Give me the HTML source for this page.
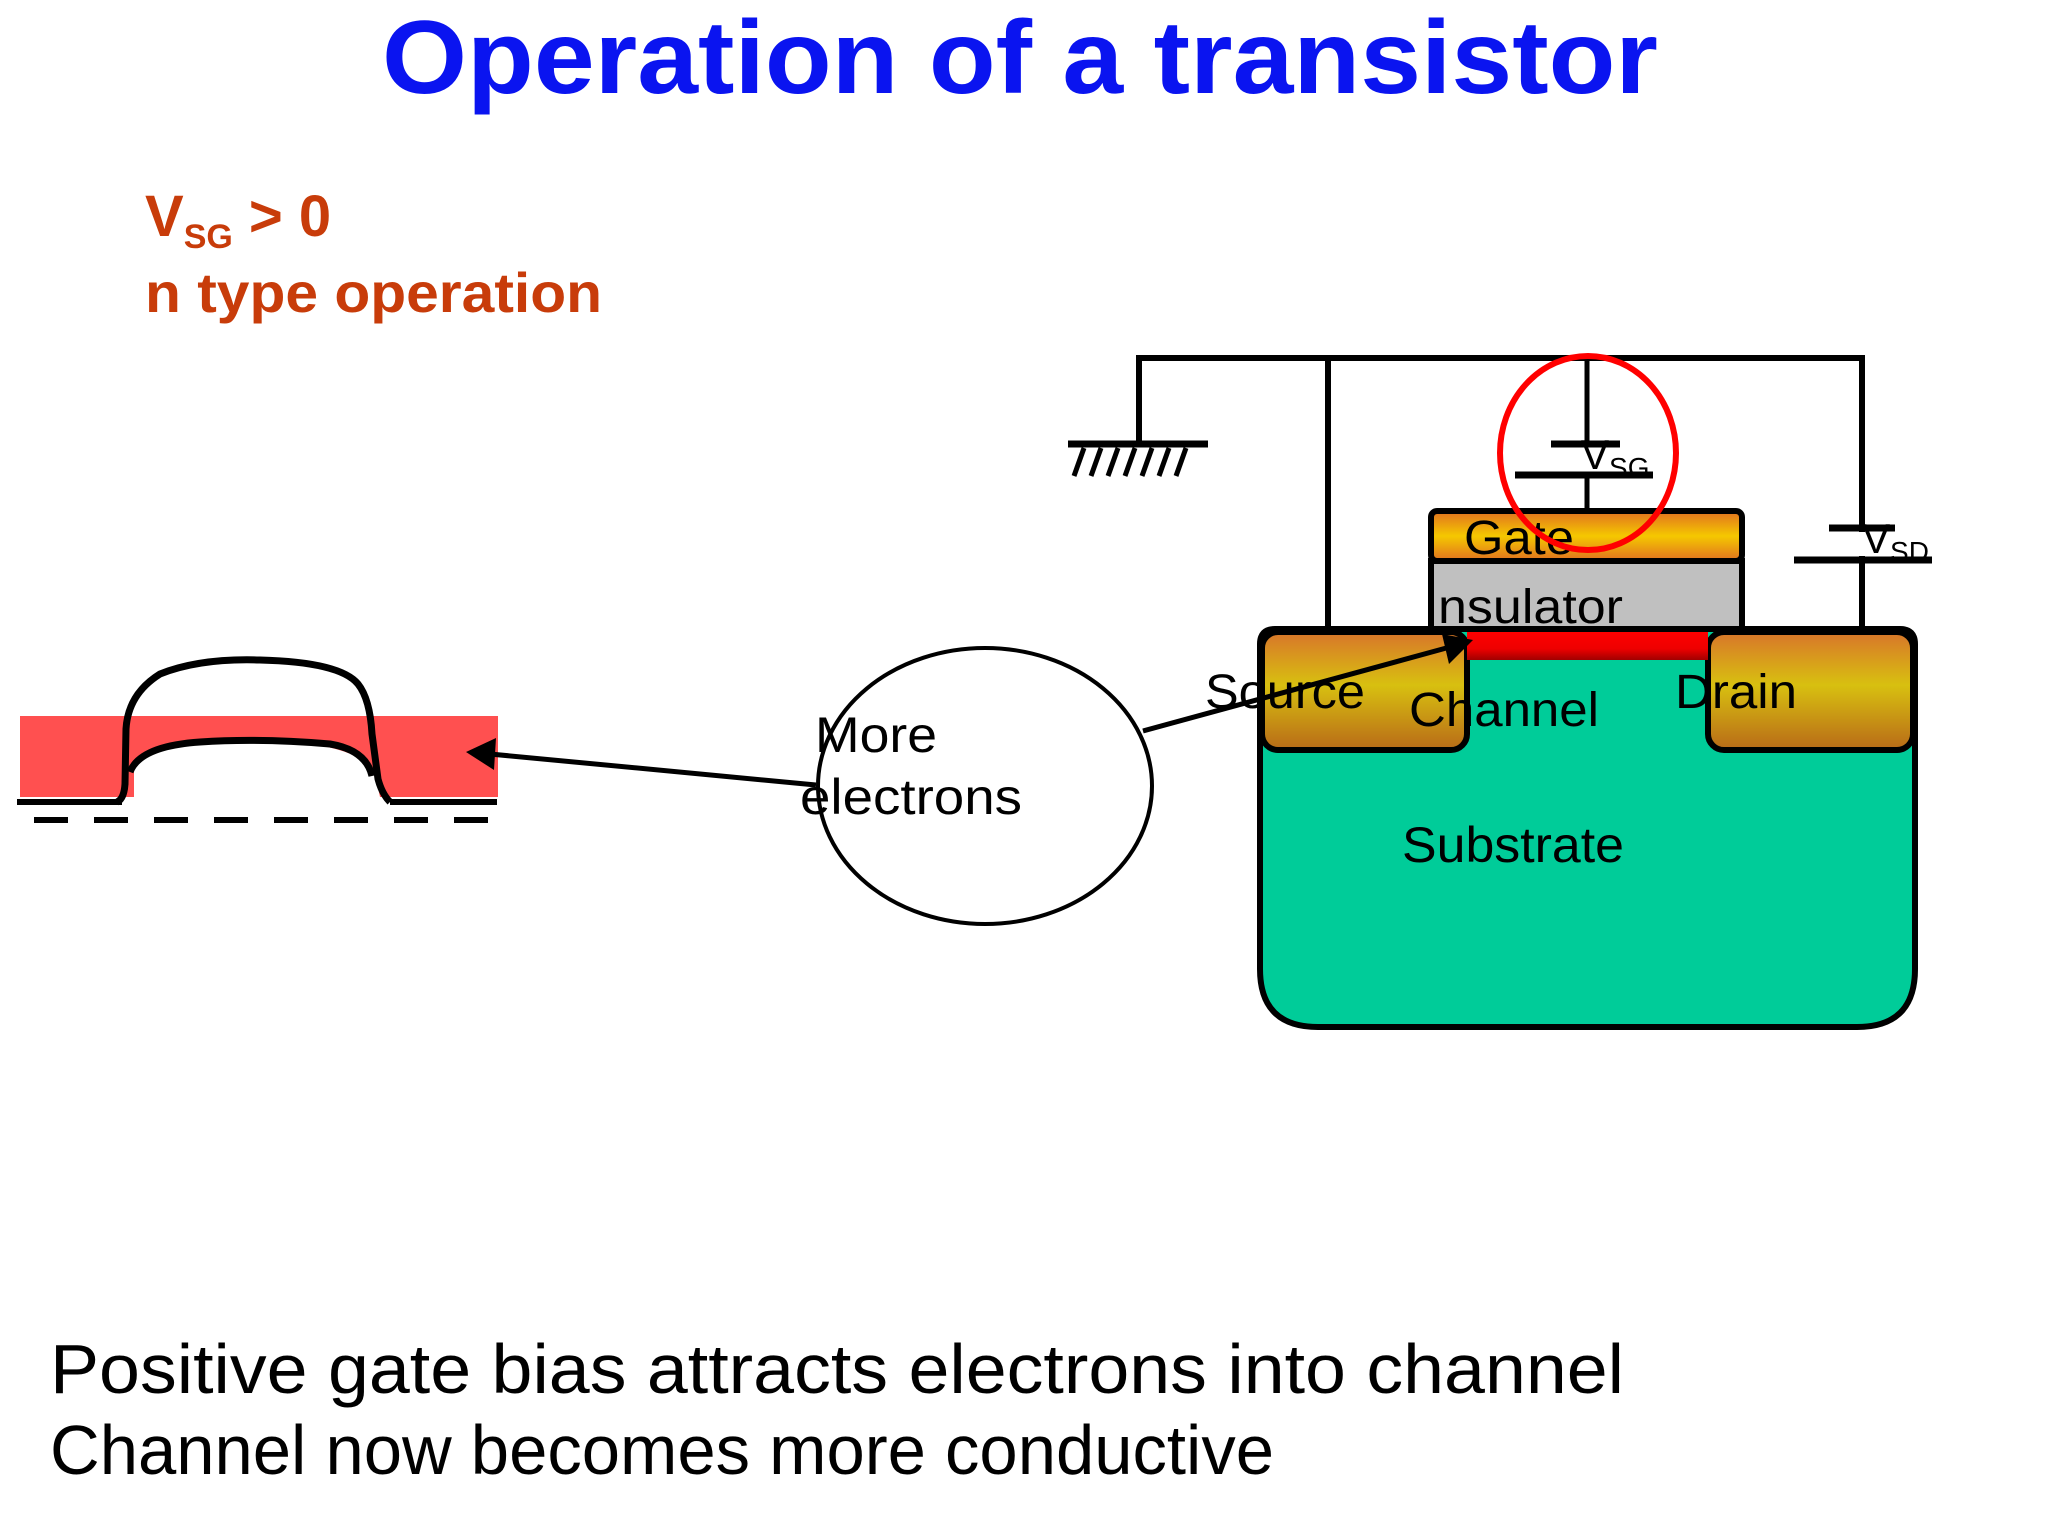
<!DOCTYPE html>
<html><head><meta charset="utf-8"><style>
html,body{margin:0;padding:0;background:#fff;}
svg{display:block;}
text{font-family:"Liberation Sans",sans-serif;}
</style></head><body>
<svg width="2048" height="1536" viewBox="0 0 2048 1536" xmlns="http://www.w3.org/2000/svg">
<defs>
<linearGradient id="og" x1="0" y1="0" x2="0" y2="1">
<stop offset="0" stop-color="#e07020"/><stop offset="0.5" stop-color="#f5c800"/><stop offset="1" stop-color="#e07020"/>
</linearGradient>
<linearGradient id="sg" x1="0" y1="0" x2="0" y2="1">
<stop offset="0" stop-color="#d8752a"/><stop offset="0.45" stop-color="#d8c010"/><stop offset="1" stop-color="#b86a18"/>
</linearGradient>
<linearGradient id="cg" x1="0" y1="0" x2="0" y2="1">
<stop offset="0" stop-color="#ff0000"/><stop offset="0.6" stop-color="#ee0000"/><stop offset="1" stop-color="#a00000"/>
</linearGradient>
</defs>

<text x="382" y="93" font-size="104" font-weight="bold" fill="#0a14f0" textLength="1276" lengthAdjust="spacingAndGlyphs">Operation of a transistor</text>

<text x="145" y="236" font-size="58" font-weight="bold" fill="#c83c0a">V<tspan font-size="34" dy="12">SG</tspan><tspan dy="-12"> &gt; 0</tspan></text>
<text x="145" y="312" font-size="56" font-weight="bold" fill="#c83c0a" textLength="457" lengthAdjust="spacingAndGlyphs">n type operation</text>

<text x="50" y="1393" font-size="70" fill="#000" textLength="1574" lengthAdjust="spacingAndGlyphs">Positive gate bias attracts electrons into channel</text>
<text x="50" y="1474" font-size="70" fill="#000" textLength="1224" lengthAdjust="spacingAndGlyphs">Channel now becomes more conductive</text>

<g transform="translate(0,-6)">
<rect x="20" y="722" width="478" height="81" fill="#ff5050"/>
<path d="M134 803 L134 775 Q140 748 255 746 Q360 748 375 780 L380 803 Z" fill="#fff"/>
<line x1="17" y1="808" x2="122" y2="808" stroke="#000" stroke-width="6"/>
<line x1="390" y1="808" x2="497" y2="808" stroke="#000" stroke-width="6"/>
<line x1="34" y1="826" x2="495" y2="826" stroke="#000" stroke-width="6" stroke-dasharray="34 26"/>
<path d="M117 808 Q124 805 125 790 L126 735 Q128 700 160 680 Q200 664 260 666 Q340 668 358 690 Q370 705 372 740 L378 785 Q382 800 390 808" fill="none" stroke="#000" stroke-width="7"/>
<path d="M130 778 Q140 752 200 748 Q260 744 330 750 Q366 756 372 782" fill="none" stroke="#000" stroke-width="7"/>
<line x1="816" y1="791" x2="490" y2="760" stroke="#000" stroke-width="5"/>
<polygon points="466,758 496,744 494,776" fill="#000"/>
</g>

<ellipse cx="985" cy="786" rx="167" ry="138" fill="none" stroke="#000" stroke-width="4"/>
<text x="815" y="752" font-size="50" fill="#000" textLength="122" lengthAdjust="spacingAndGlyphs">More</text>
<text x="800" y="814" font-size="50" fill="#000" textLength="222" lengthAdjust="spacingAndGlyphs">electrons</text>

<g transform="translate(-12,-8)">
<polyline points="1151,452 1151,366 1874,366 1874,637" fill="none" stroke="#000" stroke-width="6"/>
<line x1="1340" y1="366" x2="1340" y2="637" stroke="#000" stroke-width="6"/>
<line x1="1599" y1="366" x2="1599" y2="452" stroke="#000" stroke-width="5"/>
<line x1="1599" y1="483" x2="1599" y2="517" stroke="#000" stroke-width="5"/>
<line x1="1080" y1="452" x2="1220" y2="452" stroke="#000" stroke-width="7"/>
<g stroke="#000" stroke-width="5">
<line x1="1096" y1="456" x2="1086" y2="484"/>
<line x1="1113" y1="456" x2="1103" y2="484"/>
<line x1="1130" y1="456" x2="1120" y2="484"/>
<line x1="1147" y1="456" x2="1137" y2="484"/>
<line x1="1164" y1="456" x2="1154" y2="484"/>
<line x1="1181" y1="456" x2="1171" y2="484"/>
<line x1="1198" y1="456" x2="1188" y2="484"/>
</g>
<line x1="1563" y1="452" x2="1632" y2="452" stroke="#000" stroke-width="7"/>
<line x1="1527" y1="483" x2="1665" y2="483" stroke="#000" stroke-width="7"/>
<text x="1593" y="477" font-size="42" fill="#000">V<tspan font-size="28" dy="8">SG</tspan></text>
<line x1="1841" y1="536" x2="1907" y2="536" stroke="#000" stroke-width="7"/>
<line x1="1806" y1="568" x2="1944" y2="568" stroke="#000" stroke-width="7"/>
<line x1="1874" y1="540" x2="1874" y2="564" stroke="#fff" stroke-width="8"/>
<text x="1874" y="561" font-size="42" fill="#000">V<tspan font-size="28" dy="8">SD</tspan></text>

<path d="M1287 637 L1912 637 Q1927 637 1927 652 L1927 977 Q1927 1035 1869 1035 L1330 1035 Q1272 1035 1272 977 L1272 652 Q1272 637 1287 637 Z" fill="#00cc99" stroke="#000" stroke-width="6"/>
<rect x="1274" y="640" width="205" height="118" rx="16" fill="url(#sg)" stroke="#000" stroke-width="6"/>
<rect x="1720" y="640" width="205" height="118" rx="16" fill="url(#sg)" stroke="#000" stroke-width="6"/>
<rect x="1479" y="640" width="241" height="28" fill="url(#cg)"/>
<rect x="1443" y="569" width="311" height="68" fill="#c0c0c0" stroke="#000" stroke-width="6"/>
<rect x="1443" y="519" width="311" height="50" rx="6" fill="url(#og)" stroke="#000" stroke-width="6"/>

<text x="1476" y="562" font-size="48" fill="#000" textLength="110" lengthAdjust="spacingAndGlyphs">Gate</text>
<text x="1450" y="631" font-size="48" fill="#000" textLength="185" lengthAdjust="spacingAndGlyphs">nsulator</text>
<text x="1217" y="716" font-size="48" fill="#000" textLength="160" lengthAdjust="spacingAndGlyphs">Source</text>
<text x="1421" y="734" font-size="48" fill="#000" textLength="190" lengthAdjust="spacingAndGlyphs">Channel</text>
<text x="1687" y="716" font-size="48" fill="#000" textLength="122" lengthAdjust="spacingAndGlyphs">Drain</text>
<text x="1414" y="870" font-size="50" fill="#000" textLength="222" lengthAdjust="spacingAndGlyphs">Substrate</text>

<line x1="1155" y1="739" x2="1462" y2="655" stroke="#000" stroke-width="5"/>
<polygon points="1485,648 1454,642 1461,672" fill="#000"/>

<ellipse cx="1600" cy="461" rx="88" ry="97" fill="none" stroke="#ff0000" stroke-width="6"/>
</g>
</svg>
</body></html>
